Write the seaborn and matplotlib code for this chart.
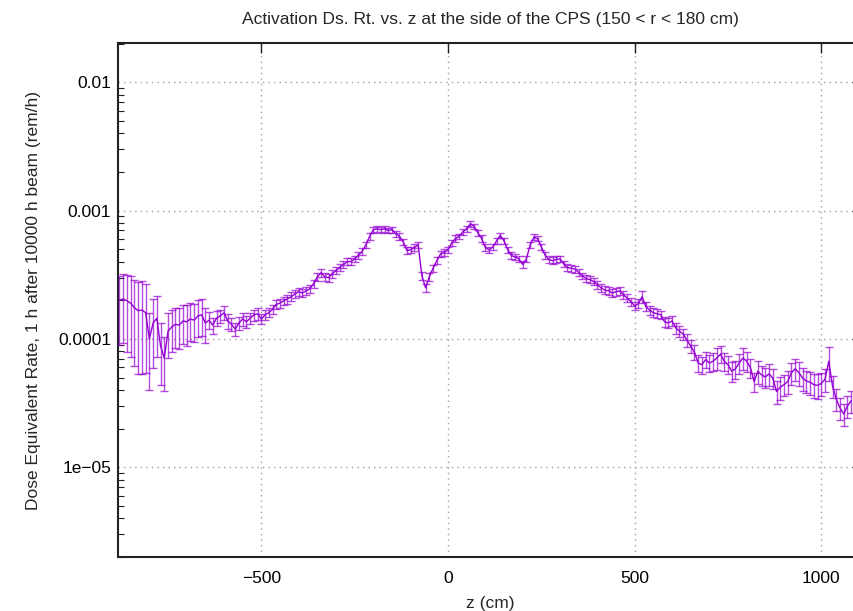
import numpy as np
import pandas as pd
import matplotlib
matplotlib.use("Agg")
import matplotlib.pyplot as plt
import seaborn as sns
from matplotlib.ticker import LogLocator, FixedLocator, NullFormatter

# ---- data ----
z_start, z_step = -880, 10
dose = [
    2.0e-4, 2.05e-4, 1.98e-4, 1.9e-4, 1.75e-4, 1.66e-4, 1.68e-4, 1.6e-4, 1.0e-4, 1.33e-4,
    1.45e-4, 8.8e-5, 7.1e-5, 1.15e-4, 1.24e-4, 1.3e-4, 1.28e-4, 1.38e-4, 1.36e-4, 1.43e-4,
    1.4e-4, 1.51e-4, 1.54e-4, 1.33e-4, 1.4e-4, 1.28e-4, 1.45e-4, 1.51e-4, 1.6e-4, 1.38e-4,
    1.3e-4, 1.19e-4, 1.33e-4, 1.43e-4, 1.36e-4, 1.45e-4, 1.54e-4, 1.57e-4, 1.43e-4, 1.54e-4,
    1.6e-4, 1.7e-4, 1.86e-4, 1.9e-4, 1.98e-4, 2.05e-4, 2.13e-4, 2.24e-4, 2.33e-4, 2.28e-4,
    2.37e-4, 2.46e-4, 2.7e-4, 3.05e-4, 3.28e-4, 3.05e-4, 3.0e-4, 3.23e-4, 3.4e-4, 3.6e-4,
    3.8e-4, 4.0e-4, 4.0e-4, 4.2e-4, 4.5e-4, 4.8e-4, 5.4e-4, 6.3e-4, 7.1e-4, 7.2e-4,
    7.1e-4, 7.2e-4, 7.0e-4, 7.1e-4, 6.6e-4, 6.3e-4, 5.7e-4, 4.87e-4, 4.95e-4, 5.15e-4,
    5.4e-4, 3.1e-4, 2.5e-4, 3.05e-4, 3.55e-4, 4.07e-4, 4.6e-4, 4.7e-4, 4.95e-4, 5.6e-4,
    6.05e-4, 6.3e-4, 6.85e-4, 7.2e-4, 7.9e-4, 7.5e-4, 6.7e-4, 6.05e-4, 5.15e-4, 4.95e-4,
    5.2e-4, 5.8e-4, 6.4e-4, 5.8e-4, 4.95e-4, 4.45e-4, 4.35e-4, 4.2e-4, 3.8e-4, 4.2e-4,
    5.4e-4, 6.2e-4, 6.05e-4, 5.2e-4, 4.5e-4, 4.15e-4, 4.07e-4, 4.15e-4, 4.2e-4, 3.85e-4,
    3.6e-4, 3.55e-4, 3.5e-4, 3.3e-4, 3.1e-4, 2.95e-4, 2.9e-4, 2.8e-4, 2.65e-4, 2.5e-4,
    2.4e-4, 2.37e-4, 2.28e-4, 2.33e-4, 2.37e-4, 2.2e-4, 2.08e-4, 1.95e-4, 1.81e-4, 1.88e-4,
    2.13e-4, 1.78e-4, 1.68e-4, 1.6e-4, 1.57e-4, 1.54e-4, 1.36e-4, 1.33e-4, 1.38e-4, 1.22e-4,
    1.15e-4, 1.09e-4, 9.8e-5, 8.8e-5, 7.9e-5, 6.5e-5, 6.3e-5, 6.9e-5, 6.5e-5, 6.7e-5,
    7.1e-5, 7.6e-5, 6.7e-5, 6.3e-5, 5.6e-5, 5.85e-5, 6.5e-5, 7.1e-5, 6.7e-5, 6.0e-5,
    4.65e-5, 5.6e-5, 5.25e-5, 5.05e-5, 5.35e-5, 4.95e-5, 3.9e-5, 4.2e-5, 4.4e-5, 4.65e-5,
    5.45e-5, 5.85e-5, 5.45e-5, 4.95e-5, 4.7e-5, 4.6e-5, 4.4e-5, 4.35e-5, 4.5e-5, 4.85e-5,
    6.7e-5, 4.3e-5, 3.4e-5, 2.9e-5, 2.6e-5, 3.0e-5, 3.3e-5,
]
rel_err = [
    0.55, 0.55, 0.6, 0.62, 0.65, 0.68, 0.68, 0.66, 0.6, 0.55,
    0.5, 0.5, 0.45, 0.38, 0.36, 0.35, 0.35, 0.34, 0.35, 0.33,
    0.33, 0.32, 0.32, 0.3, 0.15, 0.14, 0.13, 0.12, 0.12, 0.13,
    0.12, 0.12, 0.11, 0.12, 0.11, 0.1, 0.1, 0.1, 0.09, 0.09,
    0.08, 0.08, 0.08, 0.08, 0.08, 0.08, 0.08, 0.07, 0.07, 0.07,
    0.07, 0.07, 0.07, 0.07, 0.07, 0.07, 0.07, 0.07, 0.06, 0.06,
    0.06, 0.06, 0.06, 0.06, 0.06, 0.06, 0.06, 0.06, 0.05, 0.05,
    0.05, 0.05, 0.05, 0.05, 0.05, 0.06, 0.06, 0.06, 0.06, 0.06,
    0.06, 0.08, 0.08, 0.07, 0.07, 0.06, 0.06, 0.06, 0.06, 0.06,
    0.06, 0.05, 0.05, 0.05, 0.05, 0.05, 0.05, 0.06, 0.06, 0.06,
    0.06, 0.06, 0.05, 0.06, 0.06, 0.06, 0.06, 0.06, 0.06, 0.06,
    0.05, 0.05, 0.05, 0.05, 0.06, 0.06, 0.06, 0.06, 0.06, 0.06,
    0.06, 0.06, 0.06, 0.06, 0.06, 0.06, 0.06, 0.06, 0.07, 0.07,
    0.07, 0.07, 0.07, 0.07, 0.07, 0.07, 0.07, 0.07, 0.08, 0.08,
    0.1, 0.08, 0.08, 0.08, 0.08, 0.08, 0.09, 0.09, 0.09, 0.1,
    0.1, 0.1, 0.11, 0.12, 0.13, 0.15, 0.15, 0.14, 0.15, 0.16,
    0.2, 0.15, 0.16, 0.16, 0.17, 0.16, 0.18, 0.2, 0.17, 0.17,
    0.17, 0.2, 0.18, 0.18, 0.19, 0.18, 0.2, 0.2, 0.18, 0.2,
    0.2, 0.2, 0.21, 0.2, 0.2, 0.2, 0.21, 0.22, 0.2, 0.2,
    0.3, 0.2, 0.2, 0.2, 0.2, 0.2, 0.2,
]
z = [z_start + z_step * i for i in range(len(dose))]

x_ticks = [-500, 0, 500, 1000]
x_ticklabels = ["\u2212500", "0", "500", "1000"]
y_ticks = [1e-5, 1e-4, 1e-3, 1e-2]
y_ticklabels = ["1e\u221205", "0.0001", "0.001", "0.01"]

title = "Activation Ds. Rt. vs. z at the side of the CPS (150 < r < 180 cm)"
xlabel = "z (cm)"
ylabel = "Dose Equivalent Rate, 1 h after 10000 h beam (rem/h)"

df = pd.DataFrame({"z": z, "dose": dose, "err": np.array(dose) * np.array(rel_err)})

# ---- plot ----
sns.set_theme(style="white")
plt.rcParams["font.family"] = ["Liberation Sans", "DejaVu Sans"]
plt.rcParams["axes.unicode_minus"] = True

fig = plt.figure(figsize=(8.54, 6.11), dpi=100)
W, H = 854, 611
left_px, right_px, top_px, bot_px = 118, 862, 43, 557
ax = fig.add_axes([left_px / W, 1 - bot_px / H, (right_px - left_px) / W, (bot_px - top_px) / H])

col = "#9400d3"
ax.errorbar(df["z"], df["dose"], yerr=df["err"], fmt="none", ecolor=col,
            elinewidth=1.0, capsize=3.2, capthick=1.0, alpha=0.7, zorder=3)
sns.lineplot(data=df, x="z", y="dose", ax=ax, color=col, lw=1.0, zorder=4,
             estimator=None, sort=False)

ax.set_yscale("log")
ax.set_xlim(-884, 1109)
ax.set_ylim(2e-6, 2.02e-2)

ax.xaxis.set_major_locator(FixedLocator(x_ticks))
ax.set_xticklabels(x_ticklabels)
ax.yaxis.set_major_locator(FixedLocator(y_ticks))
ax.set_yticklabels(y_ticklabels)
ax.yaxis.set_minor_locator(LogLocator(base=10, subs=np.arange(2, 10), numticks=20))
ax.yaxis.set_minor_formatter(NullFormatter())

ax.grid(True, which="major", color="#a0a0a0", linestyle=(0, (1, 3)), linewidth=1.0)
ax.tick_params(axis="x", which="major", direction="in", length=7, width=1,
               top=True, labelsize=12.5, pad=10, colors="#222222", labelcolor="black")
ax.tick_params(axis="y", which="major", direction="in", length=7, width=1,
               right=True, labelsize=12.5, pad=5, colors="#222222", labelcolor="black")
ax.tick_params(axis="y", which="minor", direction="in", length=4, width=0.8,
               left=True, right=True, colors="#222222")
for s in ax.spines.values():
    s.set_color("#222222")
    s.set_linewidth(1.5)

ax.set_title(title, fontsize=12.5, pad=14)
ax.set_xlabel(xlabel, fontsize=12.5, labelpad=7)
ax.set_ylabel(ylabel, fontsize=12.5, labelpad=12)

fig.savefig("out.png", dpi=100)
